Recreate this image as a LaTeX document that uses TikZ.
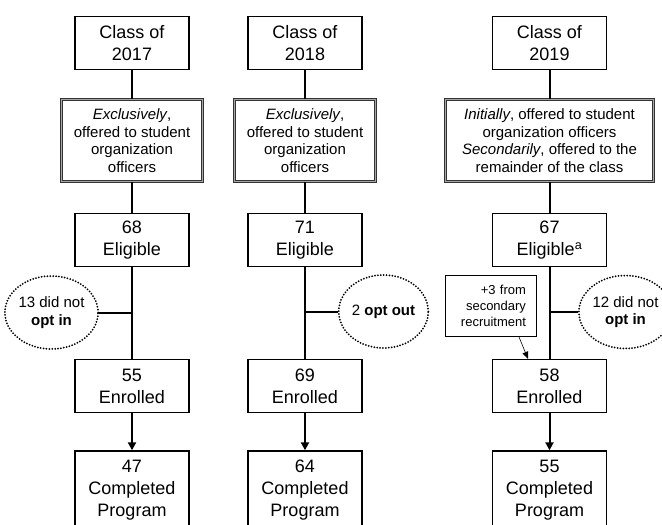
\documentclass[tikz,border=0pt]{standalone}
\usepackage{fontspec}
\setmainfont{Liberation Sans}
\usetikzlibrary{shapes.geometric,arrows.meta}

\tikzset{
	box/.style={draw, line width=1.4pt, minimum width=114pt, minimum height=53pt, inner sep=0pt, align=center, font=\fontsize{18}{22}\selectfont},
	dblbox/.style={draw=black!80, double=black!35, double distance=1.4pt, line width=0.9pt, minimum height=82pt, inner sep=0pt, align=center, font=\fontsize{15}{17.7}\selectfont},
	dropout/.style={draw, ellipse, line width=2pt, dash pattern=on 0pt off 2.9pt, line cap=round, minimum width=82pt, minimum height=73pt, inner sep=0pt, align=center, font=\fontsize{15}{17.7}\selectfont},
	note/.style={draw, line width=1pt, minimum width=91pt, minimum height=61pt, inner sep=0pt, text width=70pt, align=right, font=\fontsize{13}{16}\selectfont},
	link/.style={line width=2pt},
	flow/.style={line width=2pt, -{Triangle[width=8pt,length=8pt]}}
}

\begin{document}
\begin{tikzpicture}[x=1pt,y=-1pt]

	\useasboundingbox (0,0) rectangle (662,525);

	% class of 2017
	\node[box] (cls1) at (132,43) {Class of\\2017};
	\node[dblbox, minimum width=141pt] (offer1) at (132,140.5) {\textit{Exclusively},\\offered to student\\organization\\officers};
	\node[box] (elig1) at (132,240) {68\\Eligible};
	\node[dropout] (out1) at (51.5,312.5) {13 did not\\\textbf{opt in}};
	\node[box] (enr1) at (132,386) {55\\Enrolled};
	\node[box, minimum height=78pt] (done1) at (132,490) {47\\Completed\\Program};

	% class of 2018
	\node[box] (cls2) at (305,43) {Class of\\2018};
	\node[dblbox, minimum width=140.6pt] (offer2) at (305,140.5) {\textit{Exclusively},\\offered to student\\organization\\officers};
	\node[box] (elig2) at (305,240) {71\\Eligible};
	\node[dropout] (out2) at (383.5,311.5) {2 \textbf{opt out}};
	\node[box] (enr2) at (305,386) {69\\Enrolled};
	\node[box, minimum height=78pt] (done2) at (305,490) {64\\Completed\\Program};

	% class of 2019
	\node[box] (cls3) at (549.5,43) {Class of\\2019};
	\node[dblbox, minimum width=207.6pt] (offer3) at (549.5,140.5) {\textit{Initially}, offered to student\\organization officers\\\textit{Secondarily}, offered to the\\remainder of the class};
	\node[box] (elig3) at (549.5,240) {67\\Eligible\textsuperscript{a}};
	\node[note] (recruit3) at (491,306) {+3 from\\secondary\\recruitment};
	\node[dropout] (out3) at (625.5,312) {12 did not\\\textbf{opt in}};
	\node[box] (enr3) at (549.5,386) {58\\Enrolled};
	\node[box, minimum height=78pt] (done3) at (549.5,490) {55\\Completed\\Program};

	% links
	\draw[link] (cls1) -- (offer1);
	\draw[link] (offer1) -- (elig1);
	\draw[link] (elig1) -- (enr1);
	\draw[link] (out1.east) -- (out1.east -| elig1);
	\draw[flow] (enr1) -- (done1);

	\draw[link] (cls2) -- (offer2);
	\draw[link] (offer2) -- (elig2);
	\draw[link] (elig2) -- (enr2);
	\draw[link] (out2.west) -- (out2.west -| elig2);
	\draw[flow] (enr2) -- (done2);

	\draw[link] (cls3) -- (offer3);
	\draw[link] (offer3) -- (elig3);
	\draw[link] (elig3) -- (enr3);
	\draw[link] (out3.west) -- (out3.west -| elig3);
	\draw[line width=0.6pt, -{Triangle[width=6pt,length=7pt]}] ([xshift=28pt]recruit3.south) -- ([xshift=-21.5pt]enr3.north);
	\draw[flow] (enr3) -- (done3);

\end{tikzpicture}
\end{document}
